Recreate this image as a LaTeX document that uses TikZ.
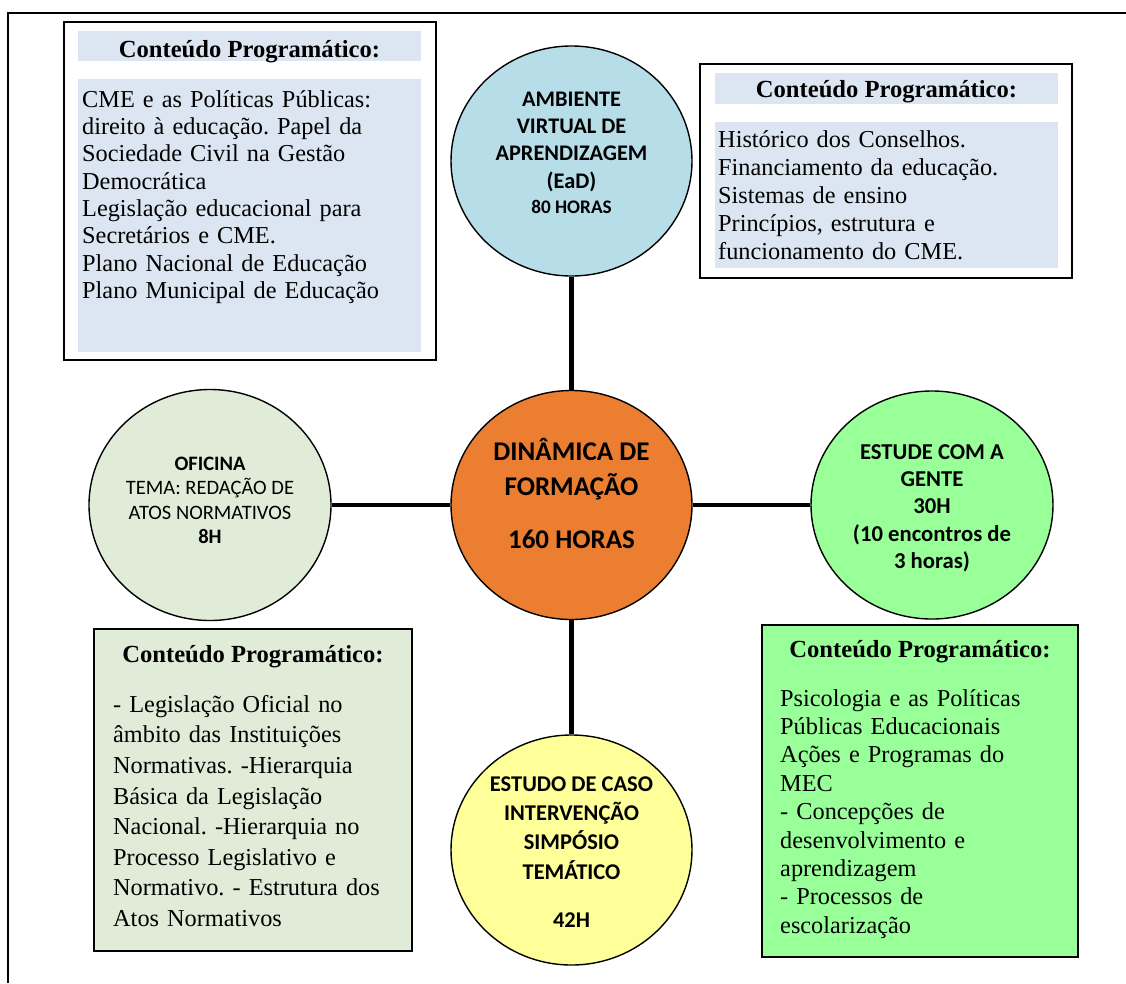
\documentclass[tikz,border=0pt]{standalone}
\usepackage{fontspec}
\setmainfont{Liberation Serif}
\newfontfamily\calibri{Carlito}
\usepackage{tikz}
\usetikzlibrary{shapes.geometric}
\definecolor{bandblue}{HTML}{DCE6F2}
\definecolor{avateal}{HTML}{B7DEE8}
\definecolor{dinorange}{HTML}{EB7E30}
\definecolor{ofigreen}{HTML}{E0ECD8}
\definecolor{estgreen}{HTML}{99FF99}
\definecolor{casoyellow}{HTML}{FFFF99}
\frenchspacing

\begin{document}
\begin{tikzpicture}[x=1pt,y=-1pt,
  circ/.style={ellipse, draw=black, line width=1.4, inner sep=0, minimum width=241, minimum height=230},
  circtext/.style 2 args={anchor=north, inner sep=0, align=center, font=\calibri\bfseries\fontsize{#1}{#2}\selectfont},
  link/.style={line width=4.8},
  boxline/.style={line width=1.3, draw=black},
  title/.style={anchor=base, inner sep=0, font=\fontsize{24.6}{29}\selectfont\bfseries},
  body/.style={anchor=north west, inner sep=0, align=left, text width=340, font=\fontsize{24.3}{#1}\selectfont}]
\useasboundingbox (0,0) rectangle (1126,983);
\draw[line width=2] (8,983) -- (8,12.5) -- (1126,12.5);
%
% the five circles
\node[circ, fill=avateal] (ava) at (571.5,161) {};
\node[circ, fill=dinorange, minimum height=229] (din) at (571.5,505) {};
\node[circ, fill=casoyellow] (caso) at (571.5,850) {};
\node[circ, fill=ofigreen, minimum width=242, minimum height=231] (ofi) at (210,505) {};
\node[circ, fill=estgreen, minimum width=242, minimum height=228] (est) at (932,505) {};
%
\draw[link] (ava) -- (din);
\draw[link] (din) -- (caso);
\draw[link] (ofi) -- (din);
\draw[link] (din) -- (est);
%
\node[circtext={22.3}{27.3}] (avaText) at (571.5,86.9)
  {\strut AMBIENTE\\VIRTUAL DE\\APRENDIZAGEM\\(EaD)\\[-2.3pt]{\fontsize{19.2}{25}\selectfont 80 HORAS}};
\node[circtext={27}{35}] (dinText) at (571.5,435.5)
  {\strut DINÂMICA DE\\FORMAÇÃO\\[18pt]160 HORAS};
\node[circtext={22.5}{29.3}] (casoText) at (571.5,770.5)
  {\strut ESTUDO DE CASO\\INTERVENÇÃO\\SIMPÓSIO\\TEMÁTICO\\[18.7pt]42H};
\node[circtext={20.5}{24.5}] (ofiText) at (210,452.9)
  {\strut OFICINA\\\mdseries TEMA: REDAÇÃO DE\\\mdseries ATOS NORMATIVOS\\8H};
\node[circtext={22.7}{27.3}] (estText) at (932,439.9)
  {\strut ESTUDE COM A\\GENTE\\30H\\(10 encontros de\\3 horas)};
%
% top left box
\draw[boxline] (64,22) rectangle (436,360);
\fill[bandblue] (78,31) rectangle (421,61);
\fill[bandblue] (78,79) rectangle (421,352);
\node[title] (titleA) at (249.5,57) {Conteúdo Programático:};
\node[body=27.3] (bodyA) at (82,87.9)
  {\strut CME e as Políticas Públicas:\\direito à educação. Papel da\\Sociedade Civil na Gestão\\Democrática\\Legislação educacional para\\Secretários e CME.\\Plano Nacional de Educação\\Plano Municipal de Educação};
%
% top right box
\draw[boxline] (700,64) rectangle (1072,278);
\fill[bandblue] (715,73) rectangle (1058,104);
\fill[bandblue] (715,122) rectangle (1058,268);
\node[title] (titleB) at (886.5,97) {Conteúdo Programático:};
\node[body=28] (bodyB) at (718,127.4)
  {\strut Histórico dos Conselhos.\\Financiamento da educação.\\Sistemas de ensino\\Princípios, estrutura e\\funcionamento do CME.};
%
% bottom left box
\draw[boxline, fill=ofigreen] (94,629) rectangle (412,951);
\node[title] (titleC) at (253,662) {Conteúdo Programático:};
\node[body=30.6] (bodyC) at (113,690.6)
  {\strut - Legislação Oficial no\\âmbito das Instituições\\Normativas. -Hierarquia\\Básica da Legislação\\Nacional. -Hierarquia no\\Processo Legislativo e\\Normativo. - Estrutura dos\\Atos Normativos};
%
% bottom right box
\draw[boxline, fill=estgreen] (762,625) rectangle (1078,957);
\node[title] (titleD) at (920,657) {Conteúdo Programático:};
\node[body=28.4] (bodyD) at (780,686.1)
  {\strut Psicologia e as Políticas\\Públicas Educacionais\\Ações e Programas do\\MEC\\- Concepções de\\desenvolvimento e\\aprendizagem\\- Processos de\\escolarização};
\end{tikzpicture}
\end{document}
